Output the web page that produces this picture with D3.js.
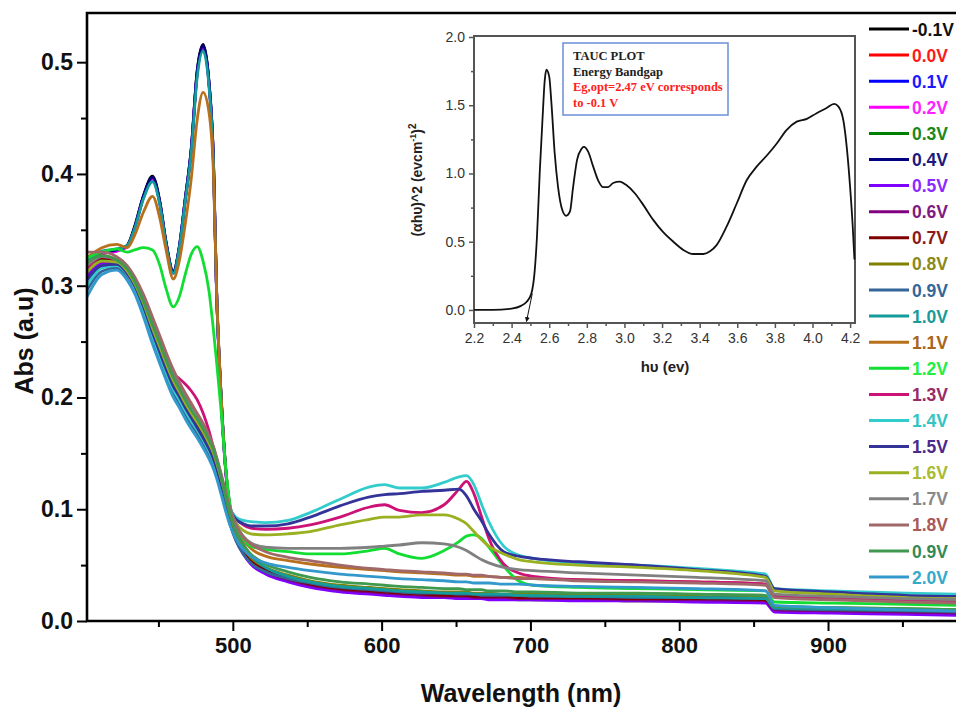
<!DOCTYPE html>
<html>
<head>
<meta charset="utf-8">
<script src="https://cdn.jsdelivr.net/npm/d3@7"></script>
<style>
  body { margin: 0; background: #fff; }
  text { font-family: Arial, "Liberation Sans", sans-serif; }
</style>
</head>
<body>
<div id="chart"></div>
<script>
// wavelength grid (nm) shared by all spectra
const wl = [402,412,422,429,434,440,446,451,455,460,
            464,468,472,476,480,484,487,489,492,495,
            498,502,507,512,522,537,552,572,592,602,
            612,627,642,652,657,662,667,672,682,692,
            702,732,772,812,858,864,902,952,990];

// absorbance, one array per applied potential
const sM01 = [0.322,0.330,0.332,0.336,0.353,0.381,0.398,0.375,0.340,0.313,
              0.335,0.378,0.422,0.492,0.516,0.482,0.412,0.300,0.205,0.140,
              0.102,0.083,0.068,0.058,0.047,0.039,0.034,0.030,0.028,0.027,
              0.026,0.025,0.024,0.024,0.024,0.023,0.023,0.023,0.023,0.022,
              0.022,0.021,0.021,0.020,0.019,0.011,0.010,0.009,0.008];
const s000 = [0.316,0.324,0.321,0.312,0.301,0.282,0.259,0.242,0.228,0.212,
              0.202,0.192,0.183,0.175,0.166,0.156,0.147,0.139,0.124,0.107,
              0.091,0.075,0.062,0.053,0.044,0.037,0.032,0.028,0.025,0.024,
              0.023,0.022,0.022,0.021,0.021,0.021,0.021,0.020,0.020,0.020,
              0.020,0.019,0.019,0.018,0.017,0.009,0.008,0.007,0.006];
const s010 = [0.320,0.329,0.331,0.335,0.352,0.380,0.396,0.374,0.339,0.312,
              0.334,0.377,0.421,0.490,0.514,0.481,0.410,0.298,0.203,0.138,
              0.100,0.081,0.066,0.056,0.045,0.037,0.032,0.028,0.026,0.025,
              0.024,0.023,0.023,0.022,0.022,0.022,0.022,0.021,0.021,0.021,
              0.020,0.020,0.019,0.019,0.018,0.010,0.009,0.008,0.007];
const s020 = [0.318,0.328,0.331,0.335,0.351,0.379,0.395,0.373,0.338,0.311,
              0.333,0.376,0.420,0.489,0.513,0.480,0.409,0.297,0.202,0.137,
              0.099,0.080,0.065,0.055,0.044,0.036,0.031,0.027,0.025,0.024,
              0.023,0.022,0.022,0.021,0.021,0.021,0.021,0.020,0.020,0.020,
              0.019,0.019,0.018,0.018,0.017,0.009,0.008,0.007,0.006];
const s030 = [0.314,0.323,0.320,0.311,0.300,0.281,0.258,0.241,0.227,0.211,
              0.201,0.191,0.182,0.174,0.165,0.155,0.146,0.138,0.123,0.106,
              0.090,0.074,0.061,0.052,0.043,0.036,0.031,0.027,0.025,0.024,
              0.023,0.022,0.021,0.021,0.021,0.020,0.020,0.020,0.020,0.019,
              0.019,0.019,0.018,0.018,0.017,0.010,0.009,0.008,0.007];
const s040 = [0.321,0.330,0.332,0.336,0.352,0.380,0.397,0.374,0.340,0.312,
              0.334,0.377,0.421,0.491,0.515,0.482,0.411,0.299,0.204,0.139,
              0.101,0.082,0.067,0.057,0.046,0.038,0.033,0.029,0.027,0.026,
              0.025,0.024,0.023,0.023,0.023,0.022,0.022,0.022,0.022,0.021,
              0.021,0.020,0.020,0.019,0.018,0.010,0.009,0.008,0.007];
const s050 = [0.308,0.320,0.319,0.310,0.299,0.280,0.257,0.240,0.226,0.210,
              0.200,0.190,0.181,0.173,0.164,0.154,0.145,0.137,0.122,0.105,
              0.089,0.073,0.060,0.051,0.042,0.035,0.030,0.026,0.024,0.023,
              0.022,0.021,0.021,0.020,0.020,0.020,0.020,0.019,0.019,0.019,
              0.019,0.018,0.018,0.017,0.016,0.008,0.007,0.006,0.005];
const s060 = [0.312,0.322,0.320,0.311,0.300,0.281,0.258,0.241,0.227,0.211,
              0.201,0.191,0.182,0.174,0.165,0.155,0.146,0.138,0.123,0.106,
              0.090,0.075,0.062,0.053,0.044,0.037,0.032,0.028,0.026,0.025,
              0.024,0.023,0.022,0.022,0.022,0.021,0.021,0.021,0.021,0.020,
              0.020,0.020,0.019,0.019,0.018,0.010,0.009,0.008,0.007];
const s070 = [0.317,0.325,0.322,0.313,0.302,0.283,0.260,0.243,0.229,0.213,
              0.203,0.193,0.184,0.176,0.167,0.157,0.148,0.140,0.125,0.108,
              0.092,0.076,0.063,0.054,0.045,0.038,0.033,0.029,0.027,0.026,
              0.025,0.024,0.023,0.023,0.023,0.022,0.022,0.022,0.022,0.021,
              0.021,0.021,0.020,0.020,0.019,0.011,0.010,0.009,0.008];
const s080 = [0.320,0.327,0.323,0.314,0.303,0.285,0.263,0.246,0.232,0.216,
              0.206,0.196,0.187,0.179,0.170,0.160,0.151,0.143,0.128,0.111,
              0.095,0.079,0.066,0.057,0.048,0.041,0.036,0.032,0.030,0.029,
              0.028,0.027,0.026,0.026,0.026,0.025,0.025,0.025,0.024,0.024,
              0.024,0.023,0.023,0.022,0.021,0.013,0.012,0.011,0.010];
const s090 = [0.296,0.313,0.316,0.307,0.296,0.276,0.252,0.234,0.220,0.204,
              0.195,0.185,0.176,0.168,0.159,0.149,0.140,0.132,0.118,0.102,
              0.087,0.072,0.060,0.052,0.044,0.038,0.034,0.030,0.028,0.027,
              0.026,0.025,0.025,0.024,0.024,0.024,0.023,0.023,0.023,0.023,
              0.022,0.022,0.021,0.021,0.020,0.011,0.010,0.009,0.008];
const s100 = [0.323,0.331,0.333,0.336,0.351,0.378,0.393,0.372,0.338,0.311,
              0.333,0.375,0.418,0.486,0.510,0.478,0.408,0.298,0.204,0.140,
              0.103,0.084,0.069,0.059,0.048,0.040,0.035,0.031,0.029,0.028,
              0.027,0.026,0.025,0.025,0.025,0.024,0.024,0.024,0.024,0.023,
              0.023,0.022,0.022,0.021,0.020,0.012,0.011,0.010,0.009];
const s110 = [0.325,0.334,0.337,0.334,0.345,0.366,0.380,0.360,0.333,0.306,
              0.322,0.355,0.395,0.448,0.473,0.455,0.400,0.300,0.205,0.140,
              0.104,0.086,0.073,0.065,0.058,0.054,0.051,0.048,0.046,0.045,
              0.044,0.043,0.042,0.041,0.041,0.040,0.040,0.040,0.039,0.039,
              0.038,0.037,0.036,0.035,0.033,0.022,0.020,0.019,0.018];
const s120 = [0.325,0.330,0.333,0.330,0.332,0.334,0.332,0.318,0.298,0.281,
              0.290,0.310,0.328,0.335,0.322,0.295,0.260,0.233,0.190,0.140,
              0.105,0.086,0.074,0.067,0.064,0.062,0.060,0.060,0.063,0.065,
              0.060,0.056,0.063,0.071,0.076,0.077,0.074,0.066,0.049,0.036,
              0.032,0.030,0.029,0.028,0.027,0.017,0.016,0.015,0.014];
const s130 = [0.315,0.326,0.322,0.310,0.298,0.280,0.262,0.241,0.229,0.221,
              0.217,0.212,0.206,0.198,0.186,0.170,0.155,0.145,0.128,0.113,
              0.101,0.092,0.086,0.083,0.082,0.083,0.086,0.093,0.102,0.104,
              0.099,0.097,0.104,0.118,0.125,0.114,0.094,0.074,0.051,0.043,
              0.040,0.037,0.036,0.035,0.033,0.022,0.020,0.018,0.017];
const s140 = [0.300,0.316,0.318,0.310,0.298,0.278,0.255,0.237,0.223,0.207,
              0.198,0.188,0.179,0.171,0.162,0.152,0.143,0.135,0.122,0.110,
              0.100,0.093,0.090,0.089,0.088,0.090,0.097,0.109,0.120,0.122,
              0.119,0.119,0.124,0.129,0.130,0.122,0.105,0.089,0.067,0.059,
              0.056,0.052,0.050,0.047,0.042,0.029,0.027,0.025,0.024];
const s150 = [0.305,0.318,0.319,0.311,0.300,0.281,0.258,0.240,0.226,0.210,
              0.201,0.191,0.182,0.173,0.164,0.154,0.145,0.137,0.123,0.110,
              0.099,0.091,0.087,0.085,0.085,0.087,0.093,0.103,0.111,0.113,
              0.114,0.116,0.117,0.118,0.112,0.100,0.090,0.078,0.062,0.058,
              0.056,0.053,0.050,0.046,0.040,0.029,0.026,0.023,0.022];
const s160 = [0.312,0.322,0.321,0.313,0.302,0.284,0.262,0.245,0.231,0.215,
              0.205,0.195,0.186,0.178,0.169,0.159,0.150,0.142,0.128,0.113,
              0.099,0.088,0.081,0.078,0.077,0.078,0.080,0.086,0.091,0.093,
              0.093,0.095,0.095,0.091,0.087,0.080,0.073,0.067,0.060,0.055,
              0.053,0.050,0.048,0.045,0.039,0.027,0.024,0.021,0.020];
const s170 = [0.318,0.326,0.324,0.316,0.306,0.290,0.270,0.252,0.238,0.222,
              0.212,0.202,0.193,0.185,0.176,0.165,0.155,0.146,0.132,0.116,
              0.101,0.087,0.076,0.070,0.066,0.065,0.065,0.065,0.066,0.067,
              0.068,0.070,0.069,0.066,0.063,0.059,0.055,0.052,0.048,0.046,
              0.045,0.043,0.041,0.039,0.036,0.024,0.022,0.020,0.019];
const s180 = [0.330,0.330,0.326,0.318,0.308,0.292,0.272,0.255,0.241,0.225,
              0.214,0.204,0.195,0.186,0.177,0.166,0.156,0.147,0.132,0.116,
              0.100,0.086,0.075,0.069,0.062,0.057,0.054,0.050,0.047,0.046,
              0.045,0.044,0.043,0.042,0.042,0.041,0.041,0.040,0.039,0.038,
              0.038,0.036,0.035,0.034,0.032,0.021,0.019,0.017,0.016];
const s090b = [0.321,0.327,0.323,0.315,0.304,0.286,0.265,0.248,0.234,0.218,
               0.208,0.198,0.189,0.181,0.172,0.162,0.153,0.144,0.129,0.112,
               0.096,0.080,0.068,0.060,0.051,0.044,0.039,0.035,0.033,0.032,
               0.031,0.030,0.029,0.029,0.028,0.028,0.028,0.027,0.027,0.026,
               0.026,0.025,0.025,0.024,0.023,0.013,0.012,0.011,0.010];
const s200 = [0.290,0.310,0.314,0.305,0.293,0.272,0.248,0.230,0.216,0.200,
              0.191,0.181,0.172,0.164,0.155,0.145,0.136,0.128,0.114,0.099,
              0.086,0.074,0.064,0.058,0.052,0.048,0.045,0.042,0.040,0.039,
              0.038,0.037,0.036,0.035,0.035,0.034,0.034,0.034,0.033,0.033,
              0.032,0.031,0.030,0.029,0.027,0.014,0.012,0.010,0.009];

const seriesLabels = ['-0.1V','0.0V','0.1V','0.2V','0.3V','0.4V','0.5V','0.6V','0.7V','0.8V','0.9V',
                      '1.0V','1.1V','1.2V','1.3V','1.4V','1.5V','1.6V','1.7V','1.8V','0.9V','2.0V'];
const lineColors = ['#000000','#ff0000','#0000ff','#ff00ff','#008000','#000080','#8000ff','#800080',
                    '#800000','#808000','#336699','#149c9c','#b8701c','#11dd33','#cc1177','#33cccc',
                    '#333399','#99b020','#808080','#a06868','#3f9a4f','#3399cc'];
const textColors = ['#111111','#ff1a1a','#1a1aff','#ff22ff','#1a881a','#1a1a80','#8a2aff','#801a80',
                    '#8a1a1a','#8a8a1a','#33669a','#1a9a9a','#a8651c','#22ee44','#992a66','#33c4c4',
                    '#4a2a8a','#a8bb33','#888888','#aa5858','#338a55','#33aacc'];
const seriesValues = [sM01,s000,s010,s020,s030,s040,s050,s060,s070,s080,s090,
                      s100,s110,s120,s130,s140,s150,s160,s170,s180,s090b,s200];

const xMajor = [500,600,700,800,900];
const xMinor = [450,550,650,750,850,950];
const yMajor = [0,0.1,0.2,0.3,0.4,0.5];
const yMinor = [0.05,0.15,0.25,0.35,0.45];

// inset: Tauc plot
const taucEv = [2.20,2.30,2.40,2.45,2.48,2.505,2.523,2.535,2.55,2.564,
                2.576,2.585,2.60,2.612,2.629,2.647,2.67,2.69,2.71,2.727,
                2.748,2.771,2.784,2.807,2.834,2.86,2.887,2.913,2.94,2.975,
                3.01,3.055,3.10,3.153,3.206,3.26,3.313,3.366,3.42,3.455,
                3.49,3.543,3.597,3.65,3.703,3.756,3.81,3.863,3.916,3.97,
                4.02,4.075,4.115,4.138,4.164,4.182,4.20,4.214,4.223];
const taucVal = [0.0,0.0,0.01,0.03,0.06,0.12,0.29,0.54,1.02,1.39,
                 1.68,1.76,1.71,1.51,1.15,0.90,0.73,0.69,0.72,0.90,
                 1.10,1.18,1.195,1.16,1.05,0.95,0.90,0.90,0.93,0.94,
                 0.915,0.855,0.77,0.66,0.57,0.50,0.44,0.41,0.41,0.43,
                 0.475,0.61,0.78,0.95,1.05,1.13,1.22,1.32,1.38,1.40,
                 1.44,1.48,1.51,1.49,1.39,1.195,0.90,0.61,0.37];
const taucXTicks = [2.2,2.4,2.6,2.8,3.0,3.2,3.4,3.6,3.8,4.0,4.2];
const taucXMinor = [2.3,2.5,2.7,2.9,3.1,3.3,3.5,3.7,3.9,4.1];
const taucYTicks = [0,0.5,1.0,1.5,2.0];
const taucYMinor = [0.25,0.75,1.25,1.75];
const noteLines = ['TAUC PLOT','Energy Bandgap','Eg,opt=2.47 eV corresponds','to -0.1 V'];

const W = 956, H = 707;
const svg = d3.select('#chart').append('svg')
    .attr('width', W).attr('height', H);

// main plot
const pLeft = 87, pTop = 13, pBottom = 621, pRight = 975;
const x = d3.scaleLinear().domain([402, 990]).range([pLeft, pLeft + 588 * 1.488]);
const y = d3.scaleLinear().domain([0, 0.544]).range([pBottom, pTop]);

const defs = svg.append('defs');
defs.append('clipPath').attr('id', 'plotclip')
    .append('rect').attr('x', pLeft).attr('y', pTop).attr('width', pRight - pLeft).attr('height', pBottom - pTop);

const line = d3.line()
    .x(d => x(d[0]))
    .y(d => y(d[1]))
    .curve(d3.curveMonotoneX);

const curves = svg.append('g').attr('clip-path', 'url(#plotclip)');
seriesValues.forEach((vals, i) => {
    curves.append('path')
        .datum(d3.zip(wl, vals))
        .attr('d', line)
        .attr('fill', 'none')
        .attr('stroke', lineColors[i])
        .attr('stroke-width', 2.8)
        .attr('stroke-linejoin', 'round');
});

// axes
const xAxis = svg.append('g').attr('transform', `translate(0,${pBottom})`)
    .call(d3.axisBottom(x).tickValues(xMajor).tickSize(10).tickPadding(6).tickSizeOuter(0));
svg.append('g').attr('transform', `translate(0,${pBottom})`)
    .call(d3.axisBottom(x).tickValues(xMinor).tickSize(6).tickFormat('').tickSizeOuter(0));
const yAxis = svg.append('g').attr('transform', `translate(${pLeft},0)`)
    .call(d3.axisLeft(y).tickValues(yMajor).tickSize(10).tickPadding(4).tickFormat(d3.format('.1f')).tickSizeOuter(0));
svg.append('g').attr('transform', `translate(${pLeft},0)`)
    .call(d3.axisLeft(y).tickValues(yMinor).tickSize(6).tickFormat('').tickSizeOuter(0));
svg.selectAll('.domain').remove();
svg.selectAll('.tick line').attr('stroke', '#000').attr('stroke-width', 2);
xAxis.selectAll('text').style('font-size', '22px').style('font-weight', 'bold').attr('fill', '#111');
yAxis.selectAll('text').style('font-size', '23px').style('font-weight', 'bold').attr('fill', '#111');

// frame
svg.append('path')
    .attr('d', `M${pRight},${pTop}H${pLeft}V${pBottom}H${pRight}`)
    .attr('fill', 'none').attr('stroke', '#000').attr('stroke-width', 2.6);

svg.append('text')
    .attr('transform', 'translate(33,341) rotate(-90)')
    .attr('text-anchor', 'middle')
    .style('font-size', '25px').style('font-weight', 'bold').attr('fill', '#111')
    .text('Abs (a.u)');
svg.append('text')
    .attr('x', 521).attr('y', 702)
    .attr('text-anchor', 'middle')
    .style('font-size', '25px').style('font-weight', 'bold').attr('fill', '#111')
    .text('Wavelength (nm)');

// legend
const leg = svg.append('g');
seriesLabels.forEach((lab, i) => {
    const ly = 29 + i * 26.1;
    leg.append('line').attr('x1', 869).attr('x2', 909).attr('y1', ly).attr('y2', ly)
        .attr('stroke', lineColors[i]).attr('stroke-width', 3);
    leg.append('text').attr('x', 912).attr('y', ly + 6.5)
        .style('font-size', '17.5px').style('font-weight', 'bold')
        .attr('fill', textColors[i]).text(lab);
});

// inset Tauc plot
const ix = d3.scaleLinear().domain([2.2, 4.226]).range([474, 855]);
const iy = d3.scaleLinear().domain([-0.1, 2.0]).range([323.6, 37]);
const inset = svg.append('g');
inset.append('rect').attr('x', 474).attr('y', 36).attr('width', 381).attr('height', 287)
    .attr('fill', '#fff').attr('stroke', '#555').attr('stroke-width', 2);

inset.append('g').attr('transform', 'translate(0,323)')
    .call(d3.axisBottom(ix).tickValues(taucXTicks).tickSize(5).tickPadding(5).tickFormat(d3.format('.1f')).tickSizeOuter(0));
inset.append('g').attr('transform', 'translate(0,323)')
    .call(d3.axisBottom(ix).tickValues(taucXMinor).tickSize(3).tickFormat('').tickSizeOuter(0));
inset.append('g').attr('transform', 'translate(474,0)')
    .call(d3.axisLeft(iy).tickValues(taucYTicks).tickSize(5).tickPadding(4).tickFormat(d3.format('.1f')).tickSizeOuter(0));
inset.append('g').attr('transform', 'translate(474,0)')
    .call(d3.axisLeft(iy).tickValues(taucYMinor).tickSize(3).tickFormat('').tickSizeOuter(0));
inset.selectAll('.domain').remove();
inset.selectAll('.tick line').attr('stroke', '#555').attr('stroke-width', 1.5);
inset.selectAll('.tick text').style('font-size', '14px').attr('fill', '#333');

const tline = d3.line().x(d => ix(d[0])).y(d => iy(d[1])).curve(d3.curveMonotoneX);
inset.append('path')
    .datum(d3.zip(taucEv, taucVal))
    .attr('d', tline)
    .attr('fill', 'none').attr('stroke', '#111').attr('stroke-width', 1.8);

// tangent arrow to the energy axis
defs.append('marker').attr('id', 'arr')
    .attr('viewBox', '0 0 10 10').attr('refX', 9).attr('refY', 5)
    .attr('markerWidth', 5).attr('markerHeight', 5).attr('orient', 'auto')
    .append('path').attr('d', 'M0,0L10,5L0,10z').attr('fill', '#111');
inset.append('line')
    .attr('x1', ix(2.51)).attr('y1', iy(0.12))
    .attr('x2', ix(2.479)).attr('y2', iy(-0.085))
    .attr('stroke', '#111').attr('stroke-width', 1).attr('marker-end', 'url(#arr)');

inset.append('text')
    .attr('transform', 'translate(422,180) rotate(-90)')
    .attr('text-anchor', 'middle')
    .style('font-size', '14px').style('font-weight', 'bold').attr('fill', '#222')
    .html('(αhυ)^2 (evcm<tspan dy="-6" font-size="9px">-1</tspan><tspan dy="6">)</tspan><tspan dy="-6" font-size="10px">2</tspan>');
inset.append('text')
    .attr('x', 665).attr('y', 372).attr('text-anchor', 'middle')
    .style('font-size', '15px').style('font-weight', 'bold').attr('fill', '#222')
    .text('hυ (ev)');

// annotation box
inset.append('rect').attr('x', 563).attr('y', 43).attr('width', 165).attr('height', 72)
    .attr('fill', '#fff').attr('stroke', '#6a8fd8').attr('stroke-width', 1.5);
noteLines.forEach((t, i) => {
    inset.append('text')
        .attr('x', 573).attr('y', 60 + i * 15.5)
        .style('font-family', '"Liberation Serif", "Times New Roman", serif')
        .style('font-size', '12.5px').style('font-weight', 'bold')
        .attr('fill', i < 2 ? '#222' : '#ff2020')
        .text(t);
});
</script>
</body>
</html>
